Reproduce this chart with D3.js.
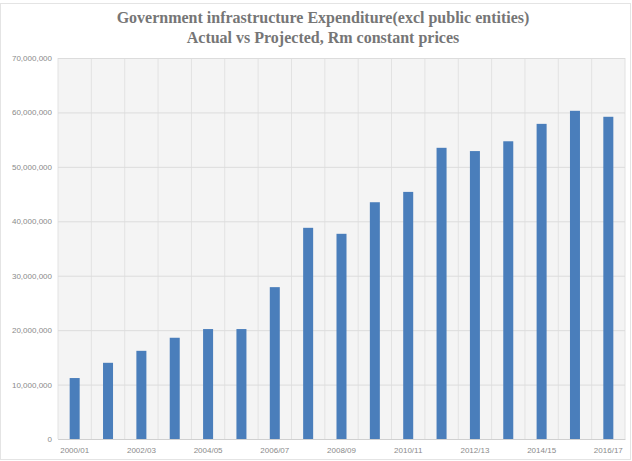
<!DOCTYPE html>
<html>
<head>
<meta charset="utf-8">
<script src="https://cdn.jsdelivr.net/npm/d3@7"></script>
<style>
  body { margin: 0; background: #fff; }
  svg { display: block; }
</style>
</head>
<body>
<svg id="chart" width="632" height="461"></svg>
<script>
// fiscal years on the category axis
const years = ['2000/01','2001/02','2002/03','2003/04','2004/05','2005/06','2006/07','2007/08',
  '2008/09','2009/10','2010/11','2011/12','2012/13','2013/14','2014/15','2015/16','2016/17']
// expenditure, Rm constant prices
const spend = [11200000, 14000000, 16200000, 18600000, 20200000, 20200000, 27900000, 38800000,
  37700000, 43500000, 45400000, 53500000, 52900000, 54700000, 57900000, 60300000, 59200000]
// only every other year gets a label
const yearLabels = years.filter((d, i) => i % 2 === 0)
const yTicks = [0, 10000000, 20000000, 30000000, 40000000, 50000000, 60000000, 70000000]
const titleLines = ['Government infrastructure Expenditure(excl public entities)',
  'Actual vs Projected, Rm constant prices']

const svg = d3.select('#chart')
const W = +svg.attr('width'), H = +svg.attr('height')
const m = { top: 58, right: 7, bottom: 22, left: 58 }

// light frame round the whole chart
svg.append('rect')
    .attr('x', 0.5).attr('y', 3.5).attr('width', W - 2).attr('height', H - 5)
    .attr('fill', '#fff').attr('stroke', '#e4e4e4')

const x = d3.scaleBand().domain(years).range([m.left, W - m.right]).paddingInner(0.7).paddingOuter(0.35)
const y = d3.scaleLinear().domain([0, 70000000]).range([H - m.bottom, m.top])

svg.append('rect')
    .attr('x', m.left).attr('y', m.top)
    .attr('width', W - m.right - m.left).attr('height', H - m.bottom - m.top)
    .attr('fill', '#f4f4f4')

// vertical grid at category edges
const step = x.step()
svg.append('g').selectAll('line')
  .data(d3.range(years.length + 1))
  .enter().append('line')
    .attr('x1', i => m.left + i * step).attr('x2', i => m.left + i * step)
    .attr('y1', m.top).attr('y2', H - m.bottom)
    .attr('stroke', '#e2e2e2')

svg.append('g')
    .attr('transform', `translate(${m.left},0)`)
    .call(d3.axisLeft(y).tickValues(yTicks).tickFormat(d3.format(',')).tickSize(-(W - m.right - m.left)).tickPadding(6))
    .call(g => g.select('.domain').remove())
    .call(g => g.selectAll('.tick line').attr('stroke', '#dcdcdc'))
    .call(g => g.selectAll('.tick text').attr('fill', '#8a8a8a').attr('font-size', 8).attr('font-family', 'Liberation Sans, Arial, sans-serif'))

svg.append('g').selectAll('rect')
  .data(spend)
  .enter().append('rect')
    .attr('x', (d, i) => x(years[i]))
    .attr('y', d => y(d))
    .attr('width', x.bandwidth())
    .attr('height', d => y(0) - y(d))
    .attr('fill', '#4a7ebb')

svg.append('g')
    .attr('transform', `translate(0,${H - m.bottom})`)
    .call(d3.axisBottom(x).tickValues(yearLabels).tickSize(0).tickPadding(8))
    .call(g => g.select('.domain').attr('stroke', '#d0d0d0'))
    .call(g => g.selectAll('.tick text').attr('fill', '#8a8a8a').attr('font-size', 8).attr('font-family', 'Liberation Sans, Arial, sans-serif'))

svg.append('g').selectAll('text')
  .data(titleLines)
  .enter().append('text')
    .attr('x', W / 2 + 7).attr('y', (d, i) => 23 + i * 20)
    .attr('text-anchor', 'middle')
    .attr('font-family', 'Liberation Serif, serif')
    .attr('font-weight', 'bold')
    .attr('font-size', 16)
    .attr('fill', '#767676')
    .text(d => d)
</script>
</body>
</html>
